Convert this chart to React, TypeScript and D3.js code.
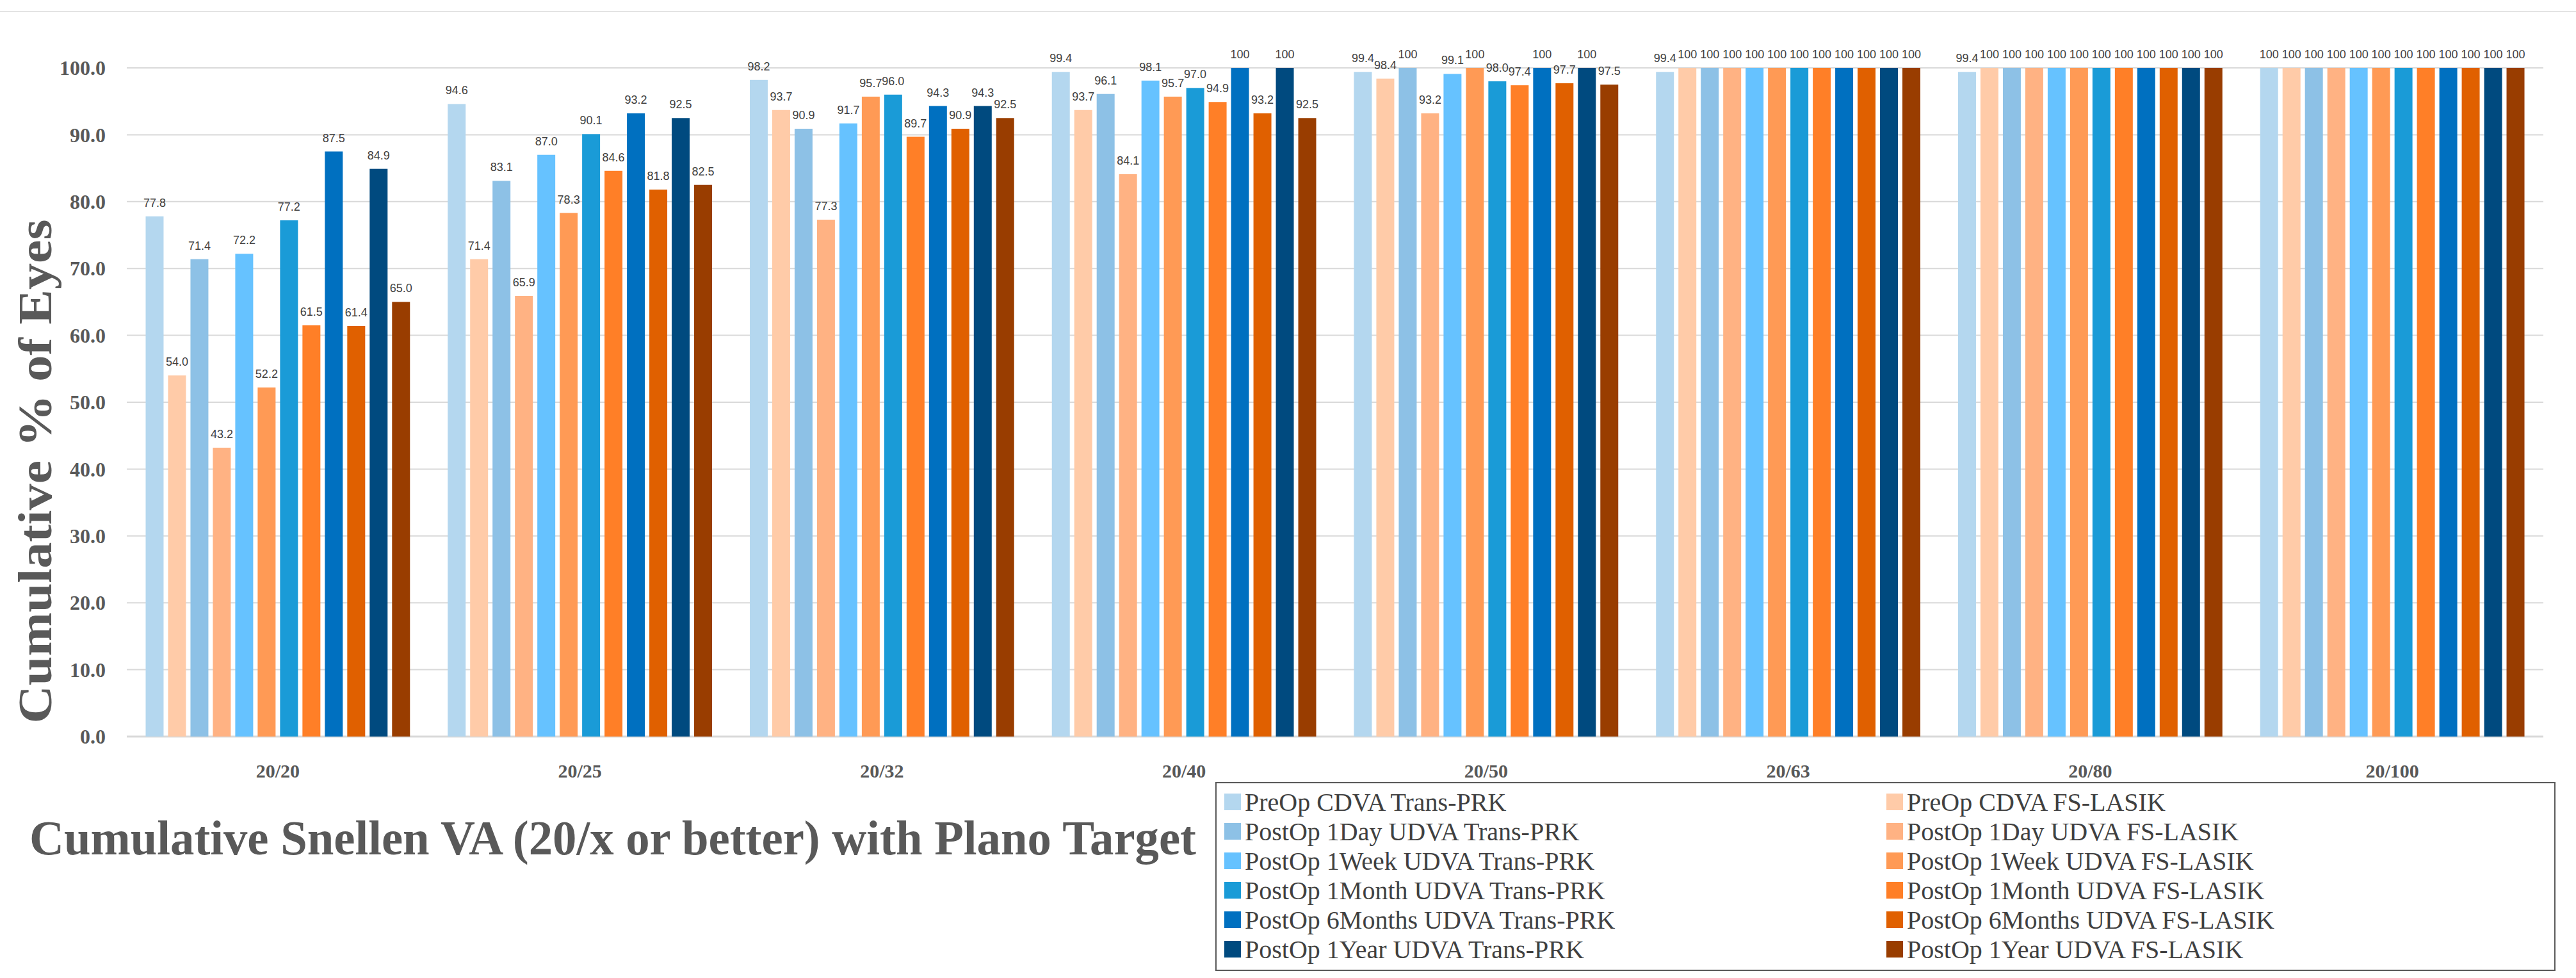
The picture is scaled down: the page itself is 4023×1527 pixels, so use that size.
import React from 'react';
import * as d3 from 'd3';

const categories = ['20/20', '20/25', '20/32', '20/40', '20/50', '20/63', '20/80', '20/100'];

const seriesNames = [
  'PreOp CDVA Trans-PRK',
  'PreOp CDVA FS-LASIK',
  'PostOp 1Day UDVA Trans-PRK',
  'PostOp 1Day UDVA FS-LASIK',
  'PostOp 1Week UDVA Trans-PRK',
  'PostOp 1Week UDVA FS-LASIK',
  'PostOp 1Month UDVA Trans-PRK',
  'PostOp 1Month UDVA FS-LASIK',
  'PostOp 6Months UDVA Trans-PRK',
  'PostOp 6Months UDVA FS-LASIK',
  'PostOp 1Year UDVA Trans-PRK',
  'PostOp 1Year UDVA FS-LASIK',
];

const seriesColors = [
  '#b4d7ef', '#ffcba8', '#8dc1e6', '#ffb283', '#66c2ff', '#ff9a55',
  '#1a9bd7', '#ff7f27', '#0070c0', '#e06000', '#004a7f', '#993d00',
];

// values[category][series]
const values = [
  [77.8, 54.0, 71.4, 43.2, 72.2, 52.2, 77.2, 61.5, 87.5, 61.4, 84.9, 65.0],
  [94.6, 71.4, 83.1, 65.9, 87.0, 78.3, 90.1, 84.6, 93.2, 81.8, 92.5, 82.5],
  [98.2, 93.7, 90.9, 77.3, 91.7, 95.7, 96.0, 89.7, 94.3, 90.9, 94.3, 92.5],
  [99.4, 93.7, 96.1, 84.1, 98.1, 95.7, 97.0, 94.9, 100, 93.2, 100, 92.5],
  [99.4, 98.4, 100, 93.2, 99.1, 100, 98.0, 97.4, 100, 97.7, 100, 97.5],
  [99.4, 100, 100, 100, 100, 100, 100, 100, 100, 100, 100, 100],
  [99.4, 100, 100, 100, 100, 100, 100, 100, 100, 100, 100, 100],
  [100, 100, 100, 100, 100, 100, 100, 100, 100, 100, 100, 100],
];

const yTicks = [0, 10, 20, 30, 40, 50, 60, 70, 80, 90, 100];

const W = 4023;
const H = 1527;
const serif = '"Liberation Serif", "DejaVu Serif", serif';
const sans = '"Liberation Sans", "Open Sans", sans-serif';

const App: React.FC = () => {
  const x = d3.scaleBand<string>().domain(categories).range([198, 3972]).paddingInner(0.125).paddingOuter(0.0625);
  const xs = d3.scaleBand<number>().domain(d3.range(seriesNames.length)).range([0, x.bandwidth()]).paddingInner(0.2).paddingOuter(0);
  const y = d3.scaleLinear().domain([0, 100]).range([1150, 106]);
  const fmt = (v: number) => (v === 100 ? '100' : v.toFixed(1));

  const legend = { x: 1899, y: 1222, w: 2091, h: 293 };

  return (
    <svg width={W} height={H} style={{ position: 'absolute', left: 0, top: 0, background: '#fff' }}>
      <rect x={0} y={0} width={W} height={H} fill="#fff" />
      <line x1={0} x2={W} y1={18} y2={18} stroke="#e3e3e3" strokeWidth={2} />

      {yTicks.map(t => (
        <g key={t}>
          <line x1={198} x2={3972} y1={y(t)} y2={y(t)} stroke="#d9d9d9" strokeWidth={t === 0 ? 3 : 2} />
          <text x={165} y={y(t)} dy="0.35em" textAnchor="end" fontFamily={serif} fontWeight="bold" fontSize={32} fill="#595959">
            {t.toFixed(1)}
          </text>
        </g>
      ))}

      {categories.map((c, ci) => (
        <g key={c} transform={`translate(${x(c)},0)`}>
          {values[ci].map((v, si) => (
            <g key={si}>
              <rect x={xs(si)} y={y(v)} width={xs.bandwidth()} height={y(0) - y(v)} fill={seriesColors[si]} />
              <text x={(xs(si) ?? 0) + xs.bandwidth() / 2} y={y(v) - 15} textAnchor="middle" fontFamily={sans} fontSize={18} fill="#404040">
                {fmt(v)}
              </text>
            </g>
          ))}
          <text x={x.bandwidth() / 2} y={1203} dy="0.35em" textAnchor="middle" fontFamily={serif} fontWeight="bold" fontSize={30} fill="#595959">
            {c}
          </text>
        </g>
      ))}

      <text transform="translate(80,736) rotate(-90)" textAnchor="middle" fontFamily={serif} fontWeight="bold" fontSize={74} fill="#595959" textLength={787} lengthAdjust="spacingAndGlyphs">
        Cumulative % of Eyes
      </text>

      <text x={46} y={1334} fontFamily={serif} fontWeight="bold" fontSize={76} fill="#595959" textLength={1822} lengthAdjust="spacingAndGlyphs">
        Cumulative Snellen VA (20/x or better) with Plano Target
      </text>

      <rect x={legend.x} y={legend.y} width={legend.w} height={legend.h} fill="none" stroke="#595959" strokeWidth={2} />
      {seriesNames.map((name, i) => {
        const col = i % 2;
        const row = Math.floor(i / 2);
        const sx = col === 0 ? 1912 : 2946;
        const cy = 1252 + row * 46;
        return (
          <g key={name}>
            <rect x={sx} y={cy - 13} width={26} height={26} fill={seriesColors[i]} />
            <text x={sx + 32} y={cy} dy="0.35em" fontFamily={serif} fontSize={40} fill="#404040">
              {name}
            </text>
          </g>
        );
      })}
    </svg>
  );
};

export default App;
